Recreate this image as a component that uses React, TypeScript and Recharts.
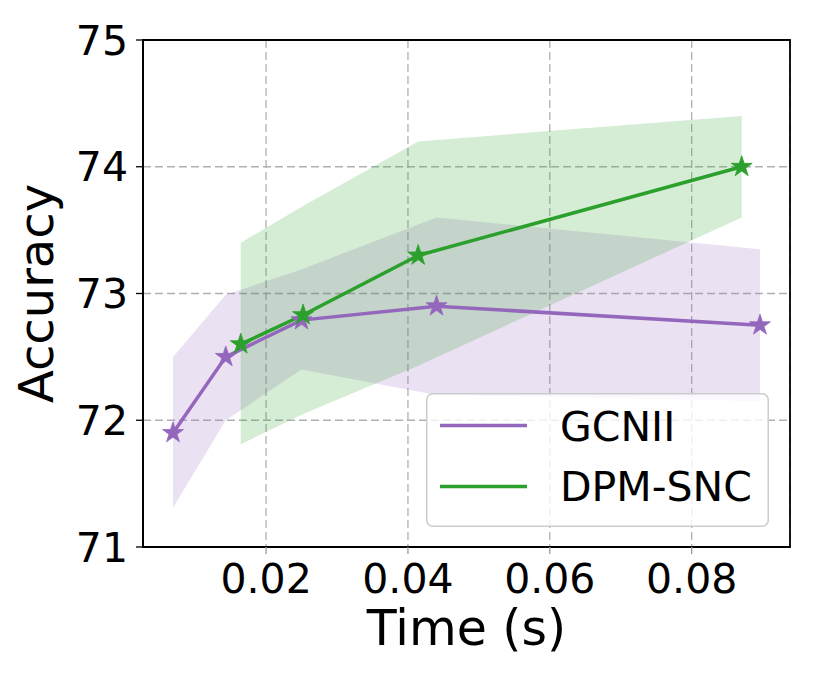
import React from 'react';
import { ComposedChart, Area, Line, XAxis, YAxis, CartesianGrid, Legend, ReferenceArea } from 'recharts';

const gcniiTime = [0.00688, 0.01432, 0.02499, 0.04403, 0.08963];
const gcniiAcc = [71.9, 72.5, 72.79, 72.9, 72.75];
const gcniiLow = [71.31, 72.0, 72.4, 72.2, 72.15];
const gcniiHigh = [72.5, 72.99, 73.19, 73.6, 73.35];

const dpmTime = [0.01643, 0.02522, 0.04144, 0.08705];
const dpmAcc = [72.6, 72.83, 73.3, 74.0];
const dpmLow = [71.81, 72.05, 72.43, 73.6];
const dpmHigh = [73.4, 73.69, 74.2, 74.4];

const xTicks = [0.02, 0.04, 0.06, 0.08];
const xTickLabels = ['0.02', '0.04', '0.06', '0.08'];
const yTicks = [71, 72, 73, 74, 75];
const xDomain = [0.00265, 0.09386];
const yDomain = [71, 75];

const PURPLE = '#9467bd';
const GREEN = '#2ca02c';
const FONT = 'DejaVu Sans, sans-serif';

const build = (t: number[], a: number[], lo: number[], hi: number[]) =>
  t.map((x, i) => ({ x, y: a[i], lo: lo[i], hi: hi[i] }));

const gcniiData = build(gcniiTime, gcniiAcc, gcniiLow, gcniiHigh);
const dpmData = build(dpmTime, dpmAcc, dpmLow, dpmHigh);

function starPoints(cx: number, cy: number, R: number, r: number) {
  const pts: string[] = [];
  for (let i = 0; i < 10; i++) {
    const ang = (-90 + i * 36) * Math.PI / 180;
    const rad = i % 2 === 0 ? R : r;
    pts.push(`${cx + rad * Math.cos(ang)},${cy + rad * Math.sin(ang)}`);
  }
  return pts.join(' ');
}

const makeStar = (color: string) => (p: any) => {
  const { cx, cy, index } = p;
  if (cx == null || cy == null) return <g key={`s${index}`} />;
  return <polygon key={`s${index}`} points={starPoints(cx, cy, 11, 4.2)} fill={color} stroke={color} strokeWidth={0.8} />;
};

const legendItems = [
  { name: 'GCNII', color: PURPLE },
  { name: 'DPM-SNC', color: GREEN },
];

const LegendBox = () => (
  <svg width={343} height={134} style={{ display: 'block' }}>
    <rect x={0.75} y={0.75} width={341.5} height={132.5} rx={6} ry={6} fill="#ffffff" fillOpacity={0.8} stroke="#cccccc" strokeWidth={1.5} />
    {legendItems.map((it, i) => (
      <g key={it.name}>
        <line x1={14} x2={101} y1={32.4 + i * 61} y2={32.4 + i * 61} stroke={it.color} strokeWidth={3.5} />
        <text x={134} y={47.7 + i * 60} fontSize={41} fontFamily={FONT} fill="#000">{it.name}</text>
      </g>
    ))}
  </svg>
);

export default function App() {
  return (
    <ComposedChart
      width={806}
      height={670}
      margin={{ top: 32, right: 24, bottom: 71, left: 0 }}
      style={{ fontFamily: FONT }}
    >
      <CartesianGrid stroke="#b0b0b0" strokeDasharray="8 4" strokeWidth={1.3} />
      <XAxis
        type="number"
        dataKey="x"
        domain={xDomain}
        ticks={xTicks}
        tickFormatter={(v: number) => xTickLabels[xTicks.indexOf(v)] ?? String(v)}
        allowDataOverflow
        height={60}
        axisLine={{ stroke: '#000', strokeWidth: 1.8 }}
        tickLine={{ stroke: '#999', strokeWidth: 1.3 }}
        tickSize={7}
        tickMargin={10}
        tick={{ fill: '#000', fontSize: 41, fontFamily: FONT }}
        label={(props: any) => {
          const vb = props.viewBox;
          return (
            <text x={vb.x + vb.width / 2} y={vb.y + 98} textAnchor="middle" fontSize={49} fontFamily={FONT} fill="#000">
              Time (s)
            </text>
          );
        }}
      />
      <YAxis
        type="number"
        domain={yDomain}
        ticks={yTicks}
        allowDataOverflow
        width={135}
        axisLine={{ stroke: '#000', strokeWidth: 1.8 }}
        tickLine={{ stroke: '#000', strokeWidth: 1.3 }}
        tickSize={7}
        tickMargin={8}
        tick={{ fill: '#000', fontSize: 41, fontFamily: FONT }}
        label={(props: any) => {
          const vb = props.viewBox;
          const cy = vb.y + vb.height / 2;
          return (
            <text x={45} y={cy} transform={`rotate(-90 45 ${cy})`} textAnchor="middle" fontSize={48} fontFamily={FONT} fill="#000">
              Accuracy
            </text>
          );
        }}
      />
      <Area
        data={gcniiData}
        dataKey={(d: any) => [d.lo, d.hi]}
        type="linear"
        stroke="none"
        fill={PURPLE}
        fillOpacity={0.2}
        isAnimationActive={false}
        legendType="none"
        activeDot={false}
      />
      <Line
        data={gcniiData}
        dataKey="y"
        name="GCNII"
        type="linear"
        stroke={PURPLE}
        strokeWidth={3.5}
        dot={makeStar(PURPLE)}
        activeDot={false}
        isAnimationActive={false}
      />
      <Area
        data={dpmData}
        dataKey={(d: any) => [d.lo, d.hi]}
        type="linear"
        stroke="none"
        fill={GREEN}
        fillOpacity={0.2}
        isAnimationActive={false}
        legendType="none"
        activeDot={false}
      />
      <Line
        data={dpmData}
        dataKey="y"
        name="DPM-SNC"
        type="linear"
        stroke={GREEN}
        strokeWidth={3.5}
        dot={makeStar(GREEN)}
        activeDot={false}
        isAnimationActive={false}
      />
      <ReferenceArea
        x1={xDomain[0]}
        x2={xDomain[1]}
        y1={yDomain[0]}
        y2={yDomain[1]}
        fill="none"
        fillOpacity={0}
        stroke="#000"
        strokeWidth={1.8}
        ifOverflow="visible"
      />
      <Legend
        layout="vertical"
        align="center"
        verticalAlign="middle"
        wrapperStyle={{ position: 'absolute', left: 418, top: 385, width: 343, height: 134 }}
        content={() => <LegendBox />}
      />
    </ComposedChart>
  );
}
